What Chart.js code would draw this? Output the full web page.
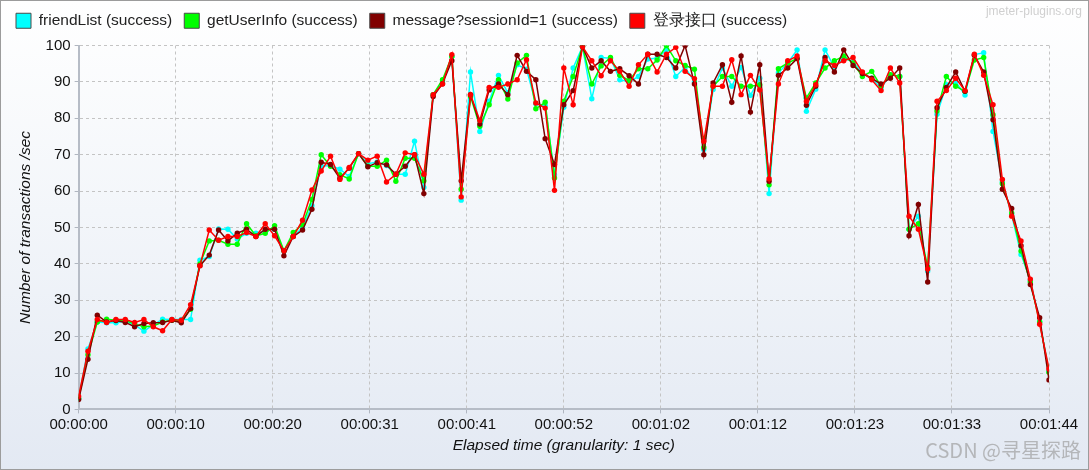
<!DOCTYPE html>
<html>
<head>
<meta charset="utf-8">
<script src="https://cdn.jsdelivr.net/npm/chart.js@4.4.1/dist/chart.umd.min.js"></script>
<style>
  html, body { margin: 0; padding: 0; background: #fff; }
  #wrap {
    position: relative;
    width: 1087px;
    height: 468px;
    border: 1px solid #9c9c9c;
    background: linear-gradient(#ffffff 0%, #f3f6fa 45%, #e3e9f3 100%);
  }
  #chart { display: block; }
  .mark { position: absolute; white-space: nowrap; pointer-events: none; }
  #site { top: 3px; right: 6px; font: 12px "Liberation Sans", sans-serif; color: #d0d0d0; }
  #csdn { bottom: 5px; right: 7px; font: 20px "Noto Sans CJK SC", sans-serif; color: rgba(160,160,160,0.7); }
</style>
</head>
<body>
<div id="wrap">
  <canvas id="chart" width="1087" height="468"></canvas>
  <div class="mark" id="site">jmeter-plugins.org</div>
  <div class="mark" id="csdn">CSDN @寻星探路</div>
</div>
<script>
// elapsed seconds 0..104, one sample per second
const elapsedSec = Array.from({ length: 105 }, (_, i) => i);

const xTickValues = [0, 10.4, 20.8, 31.2, 41.6, 52, 62.4, 72.8, 83.2, 93.6, 104];
const xTickLabels = ['00:00:00', '00:00:10', '00:00:20', '00:00:31', '00:00:41', '00:00:52',
  '00:01:02', '00:01:12', '00:01:23', '00:01:33', '00:01:44'];

const friendList = [3, 16.6, 24, 23.8, 23.8, 24.2, 23.2, 21.5, 23.2, 24.8, 24.7, 24.7, 24.7, 41, 42,
  49.6, 49.5, 46.8, 48.4, 48.4, 49, 49.5, 43.6, 47.5, 50, 56, 66.8, 67, 66, 64,
  70.3, 67.5, 68, 67, 64.6, 64.6, 73.7, 61, 86.5, 90, 97, 57.5, 92.7, 76.4, 84.7,
  91.8, 87, 94.7, 93.5, 84, 83.5, 64.5, 83, 93.8, 99.7, 85.4, 96.7, 96.5, 90.6, 90,
  91.5, 96.3, 96.5, 98.8, 91.5, 94, 90, 71.4, 87.9, 93.8, 88.8, 94, 86.3, 91, 59.3,
  92.5, 95.2, 98.8, 81.9, 88, 98.8, 94, 96.5, 95.6, 92.3, 91, 88.3, 92, 91.5, 49.5,
  53.1, 38, 81.1, 89.2, 90, 86.4, 97.5, 98, 76.4, 62.5, 53.5, 42.6, 35.5, 24, 10.5];

const getUserInfo = [3, 15, 24, 24.8, 24.5, 24.4, 23.5, 22.7, 22.9, 24, 24.5, 24.3, 27.5, 40, 46.3,
  46.5, 45.4, 45.4, 51, 47.7, 48.4, 50.5, 43.6, 48.6, 50.8, 57.7, 70, 66.8, 64.5, 63.3,
  70.3, 66.8, 66.8, 68.5, 62.7, 69, 69, 62.8, 86.5, 90.6, 97, 60.5, 86, 77.8, 83.7,
  90.6, 85.3, 95.2, 97.3, 82.6, 84.4, 63.6, 84.7, 91.5, 99.7, 89.4, 94.4, 96.7, 91.8, 90.4,
  93.6, 93.6, 96, 100, 95.8, 94.5, 93.5, 72, 88.8, 91.5, 91.5, 88.8, 88.8, 89.2, 61.7,
  93.6, 95.2, 96.4, 85.6, 89.7, 93.8, 95.8, 97.1, 95.2, 91.5, 92.9, 88.8, 92, 91.5, 49.5,
  51, 39.1, 82, 91.5, 88.8, 87.4, 96, 96.7, 81, 62, 54, 43.5, 35, 24, 10.2];

const sessionMsg = [2.7, 13.8, 25.9, 24, 24.4, 23.9, 22.7, 23.6, 23.8, 23.9, 24.5, 23.8, 27.7, 39.5, 42.4,
  49.3, 46.3, 48.4, 49.5, 47.5, 49.5, 49.5, 42.2, 47.5, 49.3, 55, 67.9, 67.3, 63.5, 66.3,
  70.3, 66.7, 67.8, 67.2, 64.6, 66.8, 70, 59.3, 86, 89.5, 95.8, 62.8, 86.5, 78.4, 87.8,
  89.4, 86.5, 97.3, 92.9, 90.6, 74.4, 67.3, 83.7, 87.6, 99.7, 93.8, 95.8, 92.9, 93.6, 91.7,
  89.4, 97.6, 97.6, 96.7, 93.8, 100, 89.4, 70, 89.7, 94.7, 84.4, 97.1, 81.7, 94.7, 62.7,
  91.8, 93.8, 96.4, 83.6, 88.8, 96.7, 92.7, 98.8, 94.5, 92.3, 91, 89.4, 91, 93.8, 47.7,
  56.3, 35, 82.9, 88.5, 92.7, 87.4, 97.3, 92.7, 79.6, 60.5, 55.2, 45, 34.3, 25.2, 8.1];

const loginApi = [3.6, 16, 24.7, 23.9, 24.7, 24.7, 23.9, 24.7, 22.7, 21.6, 24.7, 24.5, 28.8, 39.5, 49.3,
  46.5, 47.5, 47.5, 48.6, 47.5, 51, 47.7, 43.6, 47.5, 52, 60.3, 65.5, 69.6, 63.2, 66.5,
  70.3, 68.5, 69.6, 62.5, 64.6, 70.5, 70, 64.6, 86.5, 89.4, 97.5, 58.4, 86.5, 79.4, 88.5,
  88.5, 89.4, 90.6, 96.1, 84.2, 82.8, 60.2, 93.8, 83.7, 99.7, 95.8, 91.7, 95.8, 92.9, 88.8,
  94.7, 97.6, 92.7, 97.6, 99.5, 92.9, 90.9, 73.7, 88.8, 88.8, 96.1, 86.5, 91.8, 87.8, 63.4,
  89.4, 95.8, 97.1, 84.7, 89.2, 95.8, 94.5, 95.8, 96.7, 92.7, 90.6, 87.6, 93.8, 89.7, 53.1,
  49.5, 38.6, 84.7, 87.6, 91, 87.6, 97.6, 91.8, 83.7, 63.2, 53.1, 46.3, 35.8, 23.4, 11.1];

const seriesNames = ['friendList (success)', 'getUserInfo (success)', 'message?sessionId=1 (success)', '登录接口 (success)'];
const seriesColors = ['#00ffff', '#00ff00', '#800000', '#ff0000'];
const seriesValues = [friendList, getUserInfo, sessionMsg, loginApi];

const FONT = '"Liberation Sans", Arial, sans-serif';

const datasets = seriesValues.map((vals, k) => ({
  label: seriesNames[k],
  data: vals.map((v, i) => ({ x: elapsedSec[i], y: v })),
  borderColor: seriesColors[k],
  backgroundColor: seriesColors[k],
  borderWidth: 1.5,
  pointRadius: 2.7,
  pointHoverRadius: 3,
  pointBorderWidth: 0,
  tension: 0,
  order: seriesValues.length - k   // red drawn on top, like JMeter
}));

// a bit more room under the legend
const legendGap = {
  id: 'legendGap',
  beforeInit(chart) {
    const fit = chart.legend.fit;
    chart.legend.fit = function () {
      fit.call(this);
      this.height += 7;
    };
  }
};

new Chart(document.getElementById('chart'), {
  type: 'line',
  data: { datasets },
  plugins: [legendGap],
  options: {
    responsive: false,
    animation: false,
    layout: { padding: { top: 0, right: 39, bottom: 14, left: 3 } },
    plugins: {
      tooltip: { enabled: false },
      legend: {
        position: 'top',
        align: 'start',
        labels: {
          boxWidth: 15,
          boxHeight: 15,
          padding: 12,
          color: '#222',
          font: { family: FONT, size: 15.5 },
          sort: (a, b) => a.datasetIndex - b.datasetIndex,
          generateLabels: (chart) => Chart.defaults.plugins.legend.labels.generateLabels(chart)
            .map(it => Object.assign(it, { strokeStyle: '#4a4a4a', lineWidth: 1 }))
        }
      }
    },
    scales: {
      x: {
        type: 'linear',
        min: 0,
        max: 104,
        afterBuildTicks: (axis) => { axis.ticks = xTickValues.map(v => ({ value: v })); },
        ticks: {
          autoSkip: false,
          maxRotation: 0,
          color: '#111',
          padding: 2,
          font: { family: FONT, size: 15 },
          callback: (v, i) => xTickLabels[i]
        },
        grid: { color: '#c4c4c4', lineWidth: 1, tickColor: '#b0b6c0', tickLength: 4, tickBorderDash: [] },
        border: { display: true, color: '#b6bcc6', width: 2, dash: [3, 3] },
        title: {
          display: true,
          text: 'Elapsed time (granularity: 1 sec)',
          color: '#111',
          padding: { top: 1, bottom: 0 },
          font: { family: FONT, size: 15.5, style: 'italic' }
        }
      },
      y: {
        min: 0,
        max: 100,
        ticks: {
          stepSize: 10,
          color: '#111',
          padding: 4,
          font: { family: FONT, size: 15 }
        },
        grid: { color: '#c4c4c4', lineWidth: 1, tickColor: '#b0b6c0', tickLength: 4, tickBorderDash: [] },
        border: { display: true, color: '#b6bcc6', width: 2, dash: [3, 3] },
        title: {
          display: true,
          text: 'Number of transactions /sec',
          color: '#111',
          padding: { top: 12, bottom: 7 },
          font: { family: FONT, size: 15.5, style: 'italic' }
        }
      }
    }
  }
});
</script>
</body>
</html>
